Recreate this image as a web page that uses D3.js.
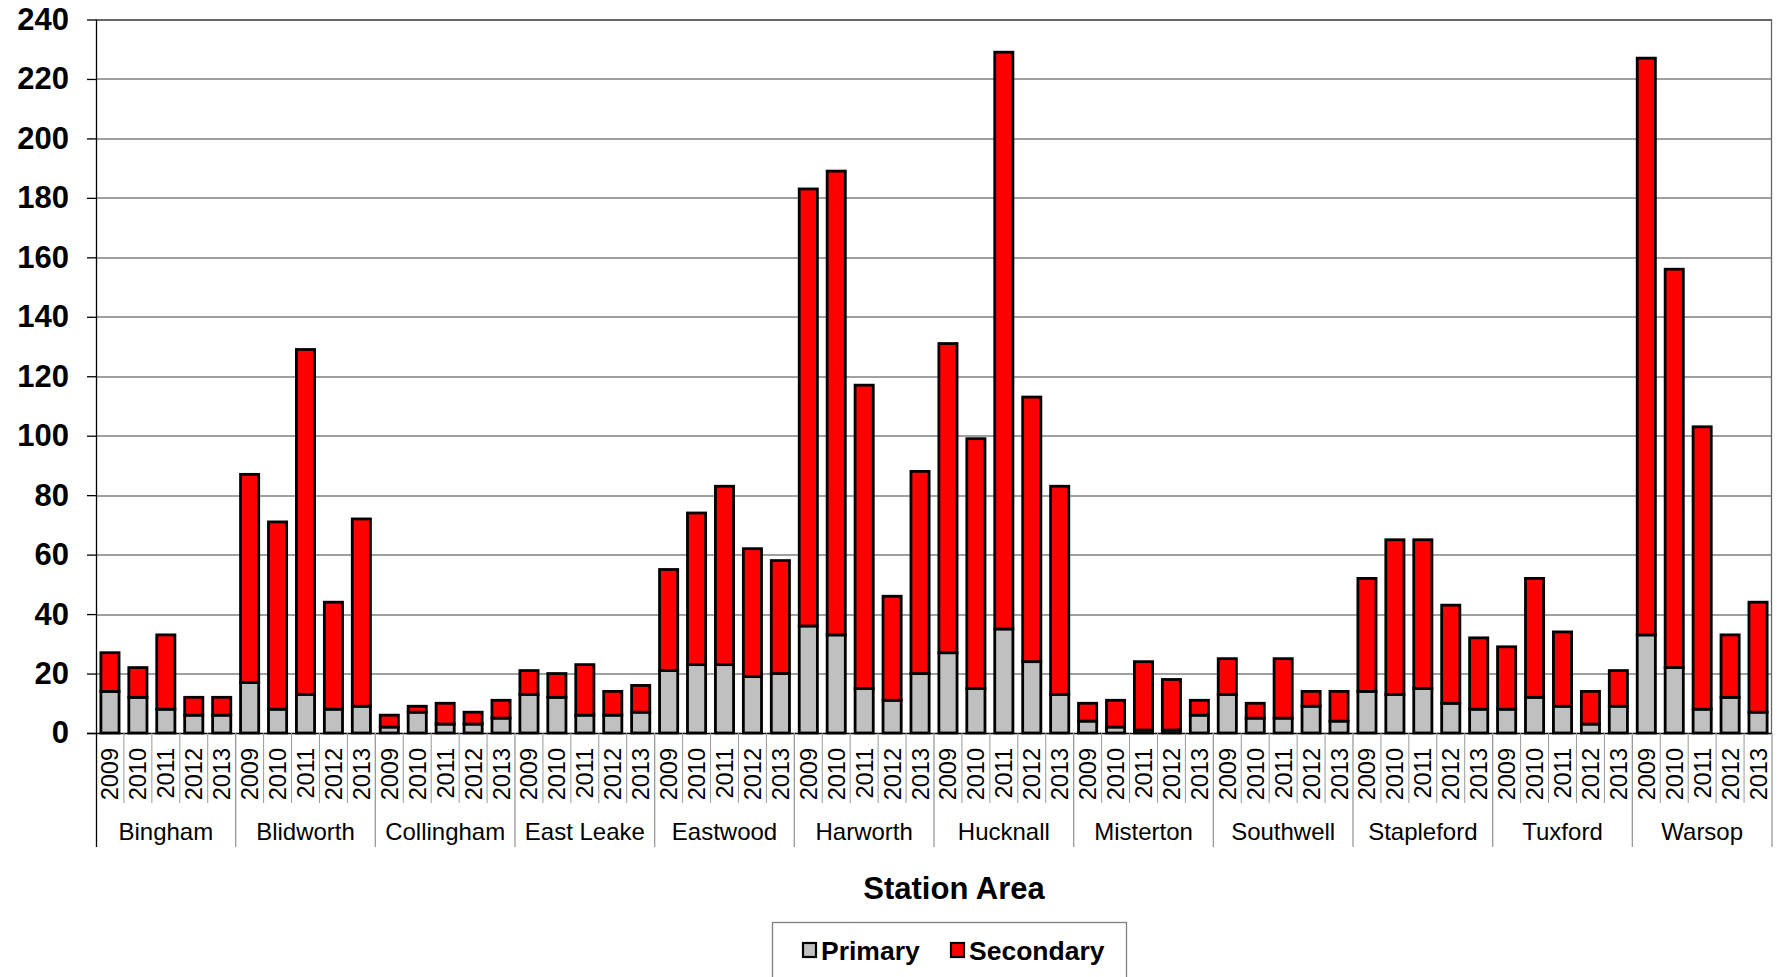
<!DOCTYPE html>
<html>
<head>
<meta charset="utf-8">
<script src="https://cdn.jsdelivr.net/npm/d3@7"></script>
<style>
  body { margin: 0; background: #fff; }
  svg { display: block; font-family: "Liberation Sans", Arial, sans-serif; }
</style>
</head>
<body>
<svg id="chart" width="1778" height="977"></svg>
<script>
// station areas and years
var areas = ["Bingham", "Blidworth", "Collingham", "East Leake", "Eastwood", "Harworth",
	"Hucknall", "Misterton", "Southwell", "Stapleford", "Tuxford", "Warsop"];
var years = ["2009", "2010", "2011", "2012", "2013"];

// primary counts, 5 years per area in order
var primary = [
	14, 12, 8, 6, 6,
	17, 8, 13, 8, 9,
	2, 7, 3, 3, 5,
	13, 12, 6, 6, 7,
	21, 23, 23, 19, 20,
	36, 33, 15, 11, 20,
	27, 15, 35, 24, 13,
	4, 2, 1, 1, 6,
	13, 5, 5, 9, 4,
	14, 13, 15, 10, 8,
	8, 12, 9, 3, 9,
	33, 22, 8, 12, 7
];
// secondary counts (stacked on top of primary)
var secondary = [
	13, 10, 25, 6, 6,
	70, 63, 116, 36, 63,
	4, 2, 7, 4, 6,
	8, 8, 17, 8, 9,
	34, 51, 60, 43, 38,
	147, 156, 102, 35, 68,
	104, 84, 194, 89, 70,
	6, 9, 23, 17, 5,
	12, 5, 20, 5, 10,
	38, 52, 50, 33, 24,
	21, 40, 25, 11, 12,
	194, 134, 95, 21, 37
];
var yTicks = [0, 20, 40, 60, 80, 100, 120, 140, 160, 180, 200, 220, 240];
var seriesNames = ["Primary", "Secondary"];
var seriesColors = ["#c0c0c0", "#ff0000"];

var data = [];
areas.forEach(function(area, i) {
	years.forEach(function(year, j) {
		var k = i * years.length + j;
		data.push({ key: area + "|" + year, area: area, year: year,
			Primary: primary[k], Secondary: secondary[k] });
	});
});

var margin = { top: 19.5, left: 96, right: 6, bottom: 244 };
var width = 1778 - margin.left - margin.right,
	height = 977 - margin.top - margin.bottom;

var svg = d3.select("#chart");
var g = svg.append("g")
	.attr("transform", "translate(" + margin.left + "," + margin.top + ")");

var x = d3.scaleBand()
	.domain(data.map(function(d) { return d.key; }))
	.range([0, width])
	.paddingInner(0.35)
	.paddingOuter(0.175);
var y = d3.scaleLinear().domain([0, 240]).range([height, 0]);

// gridlines
g.selectAll(".grid")
	.data(yTicks.slice(1))
	.enter().append("line")
	.attr("x1", 0).attr("x2", width)
	.attr("y1", function(d) { return Math.round(y(d)) + 0.5; })
	.attr("y2", function(d) { return Math.round(y(d)) + 0.5; })
	.style("stroke", function(d) { return d === 240 ? "#333" : "#808080"; })
	.style("stroke-width", 1.3);

// right border
g.append("line")
	.attr("x1", width - 0.5).attr("x2", width - 0.5)
	.attr("y1", y(240)).attr("y2", y(0))
	.style("stroke", "#666").style("stroke-width", 1.3);

// stacked bars
var stack = d3.stack().keys(seriesNames);
var layers = stack(data);

g.selectAll(".layer")
	.data(layers)
	.enter().append("g")
	.attr("class", "layer")
	.attr("fill", function(d, i) { return seriesColors[i]; })
	.selectAll("rect")
	.data(function(d) { return d; })
	.enter().append("rect")
	.attr("x", function(d) { return x(d.data.key); })
	.attr("width", x.bandwidth())
	.attr("y", function(d) { return y(d[1]); })
	.attr("height", function(d) { return y(d[0]) - y(d[1]); })
	.style("stroke", "#000")
	.style("stroke-width", 2.8);

// y axis
var yAxis = d3.axisLeft(y).tickValues(yTicks).tickSize(9).tickPadding(18);
var ya = g.append("g").call(yAxis);
ya.select(".domain").remove();
ya.selectAll(".tick line").style("stroke", "#000").style("stroke-width", 1.3);
ya.selectAll(".tick text")
	.style("font-family", "Liberation Sans, Arial, sans-serif")
	.style("font-size", "31px")
	.style("font-weight", "bold")
	.attr("fill", "#000");

// axis lines
g.append("line")
	.attr("x1", 0.5).attr("x2", 0.5)
	.attr("y1", 0).attr("y2", height + 114)
	.style("stroke", "#000").style("stroke-width", 1.3);
g.append("line")
	.attr("x1", -9).attr("x2", width)
	.attr("y1", height + 0.5).attr("y2", height + 0.5)
	.style("stroke", "#000").style("stroke-width", 1.5);

// year separators and labels
var step = x.step();
var bandStart = function(d) { return x(d.key) - step * x.paddingInner() / 2; };
g.selectAll(".ysep")
	.data(data.filter(function(d, i) { return i % years.length !== 0; }))
	.enter().append("line")
	.attr("x1", bandStart).attr("x2", bandStart)
	.attr("y1", height).attr("y2", height + 70)
	.style("stroke", "#999").style("stroke-width", 1);

g.selectAll(".year")
	.data(data)
	.enter().append("text")
	.attr("transform", function(d) {
		return "translate(" + (x(d.key) + x.bandwidth() / 2) + "," + (height + 15) + ") rotate(-90)";
	})
	.attr("dy", "0.36em")
	.attr("text-anchor", "end")
	.style("font-size", "23.5px")
	.text(function(d) { return d.year; });

// area separators and labels
var groupStart = function(i) { return i === 0 ? 0 : bandStart(data[i * years.length]); };
var groupEnd = function(i) { return i === areas.length - 1 ? width : groupStart(i + 1); };
g.selectAll(".gsep")
	.data(areas.slice(1).concat(["end"]))
	.enter().append("line")
	.attr("x1", function(d, i) { return groupEnd(i); })
	.attr("x2", function(d, i) { return groupEnd(i); })
	.attr("y1", height).attr("y2", height + 114)
	.style("stroke", "#999").style("stroke-width", 1.3);

g.selectAll(".area")
	.data(areas)
	.enter().append("text")
	.attr("x", function(d, i) { return (groupStart(i) + groupEnd(i)) / 2; })
	.attr("y", height + 107)
	.attr("text-anchor", "middle")
	.style("font-size", "24px")
	.text(function(d) { return d; });

// x axis title
svg.append("text")
	.attr("x", 954)
	.attr("y", 899)
	.attr("text-anchor", "middle")
	.style("font-size", "31px")
	.style("font-weight", "bold")
	.text("Station Area");

// legend
var legend = svg.append("g").attr("transform", "translate(772,922)");
legend.append("rect")
	.attr("x", 0.5).attr("y", 0.5)
	.attr("width", 354).attr("height", 70)
	.attr("fill", "#fff")
	.style("stroke", "#808080").style("stroke-width", 1.3);
var legendX = [31, 179];
var items = legend.selectAll(".item")
	.data(seriesNames)
	.enter().append("g")
	.attr("transform", function(d, i) { return "translate(" + legendX[i] + ",0)"; });
items.append("rect")
	.attr("x", 0).attr("y", 21)
	.attr("width", 13).attr("height", 14)
	.attr("fill", function(d, i) { return seriesColors[i]; })
	.style("stroke", "#000").style("stroke-width", 2.2);
items.append("text")
	.attr("x", 18).attr("y", 38)
	.style("font-size", "26.5px")
	.style("font-weight", "bold")
	.text(function(d) { return d; });
</script>
</body>
</html>
